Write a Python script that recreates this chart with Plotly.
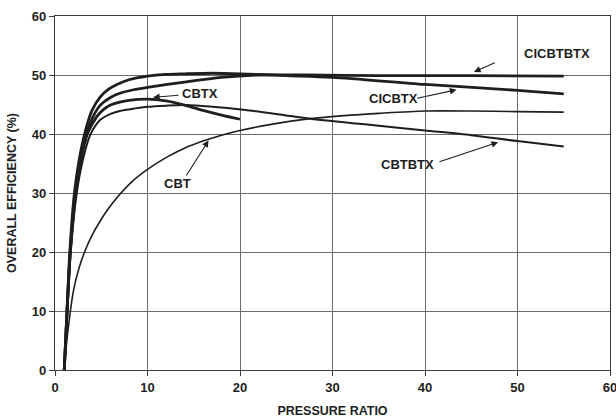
import plotly.graph_objects as go

# ---- data ----
cicbtx_x = [1, 1.3, 1.6, 2.1, 2.6, 3.2, 4.0, 4.9, 5.8, 6.7, 8, 10, 12, 14, 17, 20, 25, 30, 40, 50, 55]
cicbtx_y = [0, 10, 20, 30, 35.5, 40, 44, 46.3, 47.6, 48.4, 49.2, 49.8, 50.1, 50.2, 50.3, 50.2, 49.9, 49.6, 48.4, 47.4, 46.8]

cicbtbtx_x = [1, 1.3, 1.65, 2.2, 2.7, 3.4, 4.2, 4.9, 6, 7, 8.5, 10, 14, 18, 22, 27, 35, 45, 55]
cicbtbtx_y = [0, 10, 20, 30, 35.5, 40, 43.2, 44.9, 46.2, 46.9, 47.5, 47.9, 48.8, 49.6, 50.0, 50.0, 49.9, 49.9, 49.8]

cbtx_x = [1, 1.3, 1.65, 2.25, 2.8, 3.5, 4.5, 5.2, 6, 7, 8, 10, 12, 14, 16, 18, 20]
cbtx_y = [0, 10, 20, 30, 35.5, 40, 42.9, 44.1, 44.9, 45.4, 45.7, 45.9, 45.6, 44.9, 44.0, 43.2, 42.5]

cbtbtx_x = [1, 1.35, 1.7, 2.35, 3.0, 3.8, 4.9, 6, 7, 8.5, 10, 12, 14, 18, 21, 27.6, 35, 40, 45, 50, 55]
cbtbtx_y = [0, 10, 20, 30, 35.5, 39.8, 42.4, 43.4, 43.9, 44.3, 44.6, 44.8, 44.9, 44.5, 44.0, 42.6, 41.4, 40.6, 39.8, 38.8, 37.9]

cbt_x = [1, 1.25, 1.5, 2, 2.6, 3.2, 4.0, 4.9, 5.8, 6.8, 8.3, 10, 12, 14, 16, 18, 20, 24, 27.6, 32, 35, 40, 45, 50, 55]
cbt_y = [0, 4.5, 8, 13.5, 17.3, 20, 22.8, 25.3, 27.4, 29.4, 31.9, 34.0, 36.0, 37.6, 38.8, 39.8, 40.6, 41.8, 42.6, 43.2, 43.5, 43.9, 43.9, 43.8, 43.7]

x_ticks = [0, 10, 20, 30, 40, 50, 60]
y_ticks = [0, 10, 20, 30, 40, 50, 60]

# labels: (text, text_x, text_y, tail_x, tail_y, head_x, head_y)
labels = [
    ("CICBTBTX", 54.3, 53.6, 47.7, 52.2, 45.3, 50.5),
    ("CICBTX", 36.6, 46.0, 39.0, 46.0, 43.4, 47.5),
    ("CBTBTX", 38.1, 34.8, 41.4, 35.2, 47.9, 38.6),
    ("CBTX", 15.7, 46.8, 13.5, 46.6, 10.6, 46.2),
    ("CBT", 13.2, 31.6, 14.1, 32.7, 16.6, 38.9),
]

INK = "#1e1e1e"
fig = go.Figure()

series = [
    (cbt_x, cbt_y, 1.6),
    (cbtbtx_x, cbtbtx_y, 2.0),
    (cbtx_x, cbtx_y, 2.8),
    (cicbtbtx_x, cicbtbtx_y, 2.8),
    (cicbtx_x, cicbtx_y, 2.8),
]
for xs, ys, w in series:
    fig.add_trace(go.Scatter(x=xs, y=ys, mode="lines",
                             line=dict(color=INK, width=w, shape="spline", smoothing=0.8),
                             showlegend=False, hoverinfo="skip"))

FONT = "Liberation Sans, Arial, sans-serif"
font_lbl = dict(family=FONT, size=13, color=INK)
for txt, tx, ty, ax_, ay_, hx, hy in labels:
    fig.add_annotation(x=tx, y=ty, text=f"<b>{txt}</b>", showarrow=False, font=font_lbl)
    fig.add_annotation(x=hx, y=hy, ax=ax_, ay=ay_, axref="x", ayref="y", xref="x", yref="y",
                       text="", showarrow=True, arrowhead=2, arrowsize=1.2,
                       arrowwidth=1.1, arrowcolor=INK)

axis_common = dict(showgrid=True, gridcolor="#6a6a6a", gridwidth=1,
                   showline=True, linecolor="#3a3a3a", linewidth=1.3, mirror=True,
                   ticks="outside", ticklen=5, tickcolor="#3a3a3a",
                   zeroline=False, automargin=False, ticklabeloverflow="allow",
                   tickfont=dict(family=FONT, size=13, color=INK),
                   title_font=dict(family=FONT, size=12.5, color=INK))

fig.update_xaxes(range=[0, 60], tickvals=x_ticks, ticktext=[f"<b>{v}</b>" for v in x_ticks],
                 title_text="<b>PRESSURE RATIO</b>", **axis_common)
fig.update_yaxes(range=[0, 60], tickvals=y_ticks, ticktext=[f"<b>{v}</b>" for v in y_ticks],
                 title_text="<b>OVERALL EFFICIENCY (%)</b>", title_standoff=12, **axis_common)

fig.update_layout(width=616, height=418,
                  margin=dict(l=55, r=6, t=16, b=48),
                  paper_bgcolor="white", plot_bgcolor="white")

fig.write_html("out.html", config={"displayModeBar": False},
               post_script="document.body.style.margin='0';document.body.style.overflow='hidden';")
